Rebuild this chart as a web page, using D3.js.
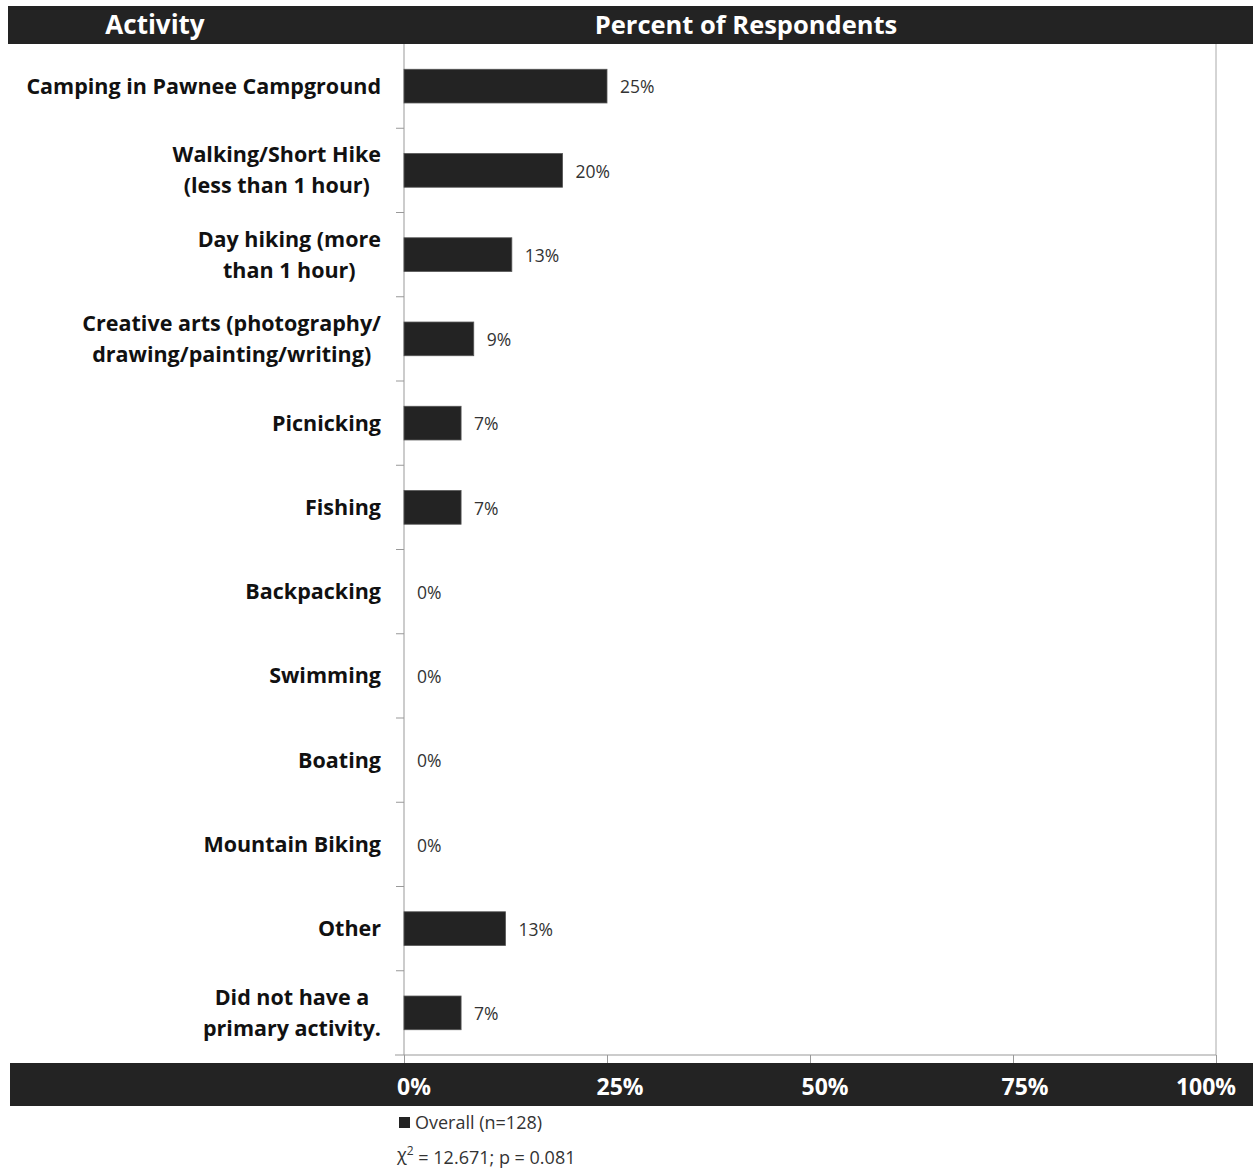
<!DOCTYPE html>
<html><head><meta charset="utf-8">
<script src="https://cdn.jsdelivr.net/npm/d3@7"></script>
<style>body{margin:0;background:#fff}svg{display:block}</style>
</head><body>
<script>
const categories = [
  ["Camping in Pawnee Campground"],
  ["Walking/Short Hike","(less than 1 hour)"],
  ["Day hiking (more","than 1 hour)"],
  ["Creative arts (photography/","drawing/painting/writing)"],
  ["Picnicking"],
  ["Fishing"],
  ["Backpacking"],
  ["Swimming"],
  ["Boating"],
  ["Mountain Biking"],
  ["Other"],
  ["Did not have a","primary activity."]
];
const values = [25.0, 19.53, 13.28, 8.59, 7.03, 7.03, 0, 0, 0, 0, 12.5, 7.03];
const xTicks = [0, 25, 50, 75, 100];
const headerLeft = "Activity";
const headerRight = "Percent of Respondents";
const legendLabel = "Overall (n=128)";
const statLabel = ["χ", "2", " = 12.671; p = 0.081"];

const W = 1253, H = 1170;
const svg = d3.select("body").append("svg").attr("width", W).attr("height", H);
const dark = "#232323";
const font = "'Open Sans', sans-serif";

const x = d3.scaleLinear().domain([0, 100]).range([404, 1216]);
const y = d3.scaleBand().domain(d3.range(categories.length)).range([44, 1055]).paddingInner(0.6).paddingOuter(0.3);

// header bar
svg.append("rect").attr("x", 8).attr("y", 6).attr("width", W - 8).attr("height", 38).attr("fill", dark);
svg.append("text").attr("x", 155).attr("y", 25).attr("dy", "0.35em").attr("text-anchor", "middle")
  .attr("fill", "#fff").attr("font-family", font).attr("font-weight", 700).attr("font-size", 26).text(headerLeft);
svg.append("text").attr("x", 746).attr("y", 25).attr("dy", "0.35em").attr("text-anchor", "middle")
  .attr("fill", "#fff").attr("font-family", font).attr("font-weight", 700).attr("font-size", 25.5).text(headerRight);

// plot frame: right border
svg.append("line").attr("x1", 1216).attr("x2", 1216).attr("y1", 44).attr("y2", 1055).attr("stroke", "#aaa");

// left axis line and category ticks
const bounds = d3.range(1, categories.length).map(i => 44 + i * (1011 / categories.length));
svg.append("line").attr("x1", 404).attr("x2", 404).attr("y1", 44).attr("y2", 1055).attr("stroke", "#999");
svg.selectAll(".ct").data(bounds).join("line").attr("x1", 396).attr("x2", 404)
  .attr("y1", d => d).attr("y2", d => d).attr("stroke", "#999");

// bottom axis
const xAxis = svg.append("g").attr("transform", "translate(0,1055)")
  .call(d3.axisBottom(x).tickValues(xTicks).tickSize(8).tickFormat(""));
xAxis.select(".domain").remove();
xAxis.selectAll("line").attr("stroke", "#999");
svg.append("line").attr("x1", 395).attr("x2", 1216).attr("y1", 1055).attr("y2", 1055).attr("stroke", "#999");

// bottom dark bar
svg.append("rect").attr("x", 10).attr("y", 1063).attr("width", W - 10).attr("height", 43).attr("fill", dark);
const tickOffset = {0: 10, 25: 13, 50: 15, 75: 12, 100: -10};
svg.selectAll(".xl").data(xTicks).join("text").attr("x", d => x(d) + tickOffset[d]).attr("y", 1087)
  .attr("dy", "0.35em").attr("text-anchor", "middle").attr("fill", "#fff")
  .attr("font-family", font).attr("font-weight", 700).attr("font-size", 23).text(d => d + "%");

// bars
const rows = categories.map((c, i) => ({c, v: values[i], i}));
svg.selectAll(".bar").data(rows.filter(d => d.v > 0)).join("rect")
  .attr("x", x(0)).attr("y", d => y(d.i)).attr("width", d => x(d.v) - x(0)).attr("height", y.bandwidth())
  .attr("fill", dark).attr("stroke", "#555").attr("stroke-width", 0.8);

// value labels
svg.selectAll(".vl").data(rows).join("text").attr("x", d => x(d.v) + 13).attr("y", d => y(d.i) + y.bandwidth() / 2 + 1)
  .attr("dy", "0.35em").attr("fill", "#333").attr("font-family", font).attr("font-size", 17.5)
  .text(d => Math.round(d.v) + "%");

// category labels (block right-aligned, lines centered)
rows.forEach(d => {
  const cy = y(d.i) + y.bandwidth() / 2;
  const g = svg.append("g");
  const n = d.c.length;
  const texts = d.c.map((line, k) => g.append("text").attr("y", cy + (k - (n - 1) / 2) * 31).attr("dy", "0.35em")
    .attr("text-anchor", "middle").attr("fill", "#111").attr("font-family", font).attr("font-weight", 700)
    .attr("font-size", 21.5).text(line));
  const maxW = d3.max(texts, t => t.node().getComputedTextLength());
  texts.forEach(t => t.attr("x", 381 - maxW / 2));
});

// legend
svg.append("rect").attr("x", 399).attr("y", 1117).attr("width", 11).attr("height", 11).attr("fill", dark);
svg.append("text").attr("x", 415).attr("y", 1123).attr("dy", "0.35em").attr("fill", "#333")
  .attr("font-family", font).attr("font-size", 18).text(legendLabel);
const st = svg.append("text").attr("x", 397).attr("y", 1155).attr("dy", "0.35em").attr("fill", "#333")
  .attr("font-family", font).attr("font-size", 18);
st.append("tspan").text(statLabel[0]);
st.append("tspan").attr("dy", "-0.5em").attr("font-size", 12).text(statLabel[1]);
st.append("tspan").attr("dy", "0.5em").text(statLabel[2]);
</script>
</body></html>
